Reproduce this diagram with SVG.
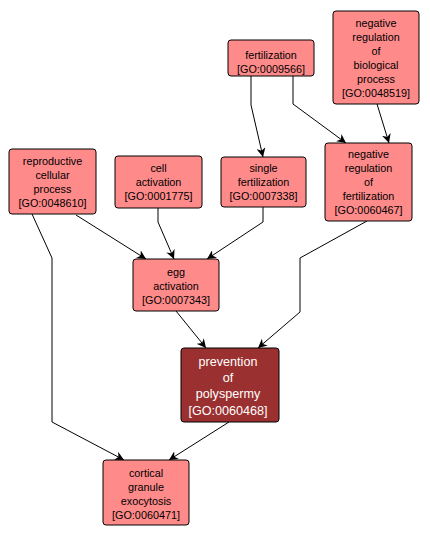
<svg xmlns="http://www.w3.org/2000/svg" width="430" height="539" viewBox="0 0 430 539">
<style>
.n rect{fill:#ff8a8a;stroke:#000;stroke-width:1}
.n text{font-family:"Liberation Sans",Arial,sans-serif;font-size:10.8px;fill:#000;text-anchor:middle}
.d rect{fill:#9b3030;stroke:#000;stroke-width:1}
.d text{font-family:"Liberation Sans",Arial,sans-serif;font-size:12.6px;fill:#fff;text-anchor:middle}
#edges path{fill:none;stroke:#000;stroke-width:1;marker-end:url(#arr)}
</style>
<defs>
<marker id="arr" viewBox="0 0 10 10" refX="10" refY="5" markerWidth="9" markerHeight="9" markerUnits="userSpaceOnUse" orient="auto">
<path d="M0,0 L10,5 L0,10 L3,5 Z" fill="#000"/>
</marker>
</defs>
<rect width="430" height="539" fill="#fff"/>
<g id="edges">
<path d="M251,76 L251,105 L263,157"/>
<path d="M293,76 L293,104 L346,143"/>
<path d="M377,104 L389,143"/>
<path d="M76,215 L146,259"/>
<path d="M32,214 L52,258 L52,422 L124,460"/>
<path d="M158,208 L158,222 L174,259"/>
<path d="M263,207 L263,222 L207,259"/>
<path d="M367,221 L300,258 L300,312 L258,348"/>
<path d="M176,311 L206,348"/>
<path d="M229,422 L169,460"/>
</g>
<g id="fertilization" class="n"><rect x="228" y="40" width="86" height="36" rx="3"/><text x="271" y="59">fertilization</text><text x="271" y="73">[GO:0009566]</text></g>
<g id="negbio" class="n"><rect x="333" y="11" width="86" height="93" rx="3"/><text x="376" y="27">negative</text><text x="376" y="41">regulation</text><text x="376" y="55">of</text><text x="376" y="69">biological</text><text x="376" y="83">process</text><text x="376" y="97">[GO:0048519]</text></g>
<g id="singlefert" class="n"><rect x="221" y="157" width="85" height="50" rx="3"/><text x="263.5" y="172">single</text><text x="263.5" y="186">fertilization</text><text x="263.5" y="200">[GO:0007338]</text></g>
<g id="negfert" class="n"><rect x="325" y="143" width="87" height="78" rx="3"/><text x="368.5" y="158">negative</text><text x="368.5" y="172">regulation</text><text x="368.5" y="186">of</text><text x="368.5" y="200">fertilization</text><text x="368.5" y="214">[GO:0060467]</text></g>
<g id="reproductive" class="n"><rect x="9" y="149" width="87" height="65" rx="3"/><text x="52.5" y="165">reproductive</text><text x="52.5" y="179">cellular</text><text x="52.5" y="193">process</text><text x="52.5" y="207">[GO:0048610]</text></g>
<g id="cellact" class="n"><rect x="115" y="156" width="87" height="52" rx="3"/><text x="158.5" y="172">cell</text><text x="158.5" y="186">activation</text><text x="158.5" y="200">[GO:0001775]</text></g>
<g id="eggact" class="n"><rect x="133" y="259" width="86" height="52" rx="3"/><text x="176" y="276">egg</text><text x="176" y="290">activation</text><text x="176" y="304">[GO:0007343]</text></g>
<g id="prevention" class="d"><rect x="181" y="348" width="98" height="74" rx="3"/><text x="228" y="366">prevention</text><text x="228" y="382">of</text><text x="228" y="398">polyspermy</text><text x="228" y="415">[GO:0060468]</text></g>
<g id="cortical" class="n"><rect x="103" y="460" width="86" height="65" rx="3"/><text x="146" y="477">cortical</text><text x="146" y="491">granule</text><text x="146" y="505">exocytosis</text><text x="146" y="519">[GO:0060471]</text></g>
</svg>
